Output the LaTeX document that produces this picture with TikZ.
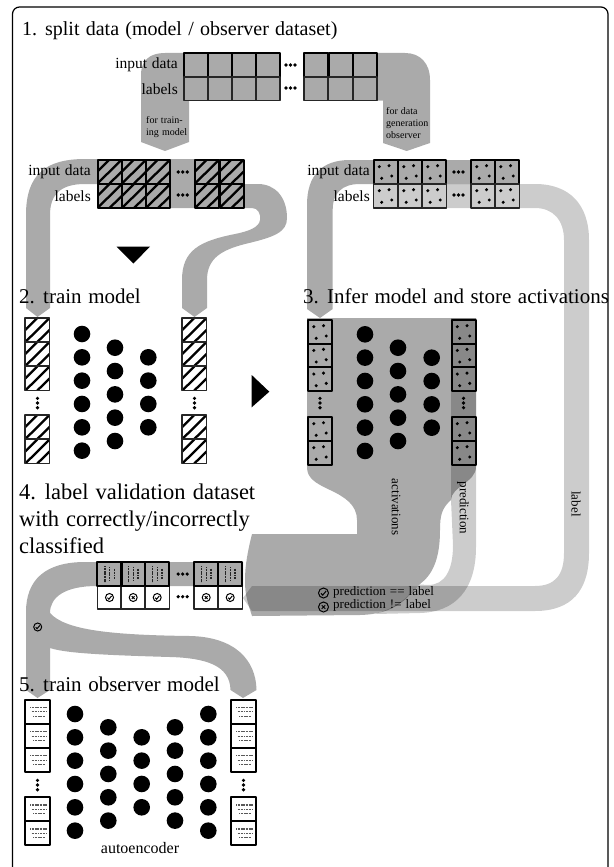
\documentclass[tikz,border=0pt]{standalone}
\usepackage{fontspec}
\setmainfont[WordSpace=1.25]{Liberation Serif}
\tikzset{
    headtext/.style={anchor=base west, inner sep=0pt, font=\fontsize{21}{27}\selectfont},
    rowtext/.style={anchor=east, inner sep=0pt, font=\fontsize{15.5}{18}\selectfont},
    smalltext/.style={anchor=west, inner sep=0pt, align=left, font=\fontsize{10}{12.3}\selectfont},
    belttext/.style={inner sep=0pt, font=\fontsize{13}{15}\selectfont},
    graybelt/.style={fill=black, fill opacity=0.333},
    lightbelt/.style={fill=black, fill opacity=0.2},
    toprow/.style={draw=black, line width=2pt, line join=round},
    botrow/.style={draw=black!85, line width=1.4pt, line join=round},
    hatchcell/.pic={
        \begin{scope}
            \clip (0,0) rectangle (24.3,24);
            \draw[line width=2.3pt] (0,12) -- (12,0);
            \draw[line width=2.3pt] (0,24) -- (24.3,0);
            \draw[line width=2.3pt] (12,24) -- (24.3,12);
        \end{scope}
    },
    dotcell/.pic={
        \foreach \dx/\dy in {5.8/6.7,15.5/5.7,8.2/18.3,18.2/16}
            \fill (\dx,\dy) circle (1.7);
    },
    textcell/.pic={
        \draw[line width=1.1pt, black!65, dash pattern=on 1.1pt off 0.5pt] (5,8) -- (22,8);
        \draw[line width=1.1pt, black!65, dash pattern=on 1.1pt off 0.5pt] (6.5,12.4) -- (21,12.4);
        \draw[line width=1.1pt, black!65, dash pattern=on 1.1pt off 0.5pt] (8,16.8) -- (19.5,16.8);
    },
    textcolumn/.pic={
        \draw[line width=1.2pt, black!85, dash pattern=on 1.1pt off 0.5pt] (7.7,4) -- (7.7,20);
        \draw[line width=1.2pt, black!85, dash pattern=on 1.1pt off 0.5pt] (12.3,5) -- (12.3,19);
        \draw[line width=1.2pt, black!85, dash pattern=on 1.1pt off 0.5pt] (16.9,6.5) -- (16.9,17.5);
    },
    hdots/.pic={
        \foreach \i in {-4.5,0,4.5}
            \fill (\i,0) circle (1.8);
    },
    vdots/.pic={
        \foreach \i in {-4.7,0,4.7}
            \fill (0,\i) circle (1.8);
    },
    checkmark/.pic={
        \draw[line width=1pt] (0,0) circle (4);
        \draw[line width=1pt] (-2,0.2) -- (-0.6,1.7) -- (2.1,-1.6);
    },
    crossmark/.pic={
        \draw[line width=1pt] (0,0) circle (4);
        \draw[line width=1pt] (-1.4,-1.4) -- (1.4,1.4) (-1.4,1.4) -- (1.4,-1.4);
    }
}
\begin{document}
\begin{tikzpicture}[x=1pt, y=-1pt]
    \useasboundingbox (0,0) rectangle (613,867);

    % Frame
    \draw[line width=1.2pt, rounded corners=7pt] (12.5,870) -- (12.5,7) -- (608,7) -- (608,870);

    % Belts of step 1
    \fill[graybelt] (184,53) -- (165,53) .. controls (150,53) and (141,60) .. (141,75)
        -- (141,142) -- (165,151) -- (189,142) -- (189,100) -- (279.5,100) -- (279.5,53) -- cycle;
    \fill[graybelt] (304,53) -- (377,53) -- (405,53) .. controls (420,53) and (430,63) .. (430,80)
        -- (430,143) -- (406.7,151) -- (383,143) -- (383,100.5) -- (304,100.5) -- cycle;

    % Belts of the model split
    \fill[graybelt] (243.5,159) -- (85,159) .. controls (45,159) and (26,175) .. (26,215)
        -- (26,308) -- (37.5,317) -- (50,308) -- (50,215) .. controls (50,195) and (60,184) .. (85,184)
        -- (97.5,184) -- (97.5,208) -- (243.5,208) -- (252,208)
        .. controls (258,208) and (261,214) .. (260,220) .. controls (259,227) and (250,231) .. (235,234)
        .. controls (200,241) and (182,250) .. (182,280) -- (182,308) -- (194.5,317) -- (207,308) -- (207,280)
        .. controls (207,258) and (222,250) .. (245,244) .. controls (275,237) and (287,232) .. (287,218)
        .. controls (287,197) and (275,184) .. (258,184) -- (243.5,184) -- cycle;

    % Belts of the observer split
    \fill[graybelt] (519.5,160) -- (350,160) .. controls (322,160) and (307,175) .. (307,205)
        -- (307,309) -- (320,318) -- (332.7,309) -- (332.7,210) .. controls (332.7,193) and (342,184) .. (360,184)
        -- (519.5,184) -- cycle;
    \fill[lightbelt] (373.5,184) -- (535,184) .. controls (570,184) and (589,205) .. (589,240)
        -- (589,553) .. controls (589,590) and (572,611) .. (535,611)
        -- (252,611) -- (243,598) -- (252,586) -- (535,586) .. controls (555,586) and (564,575) .. (564,553)
        -- (564,240) .. controls (564,220) and (553,208) .. (535,208) -- (373.5,208) -- cycle;

    % Belts of step 3
    \fill[graybelt] (307,318) -- (476,318) -- (476,467) .. controls (476,482) and (451,487) .. (451,500)
        .. controls (442,508) and (440,515) .. (440,530) .. controls (440,560) and (432,575) .. (420,584)
        .. controls (405,600) and (395,614) .. (360,615) -- (252,616)
        .. controls (247,600) and (245,595) .. (245,580) .. controls (245,565) and (248,550) .. (252,534)
        -- (357,534) -- (357,520) .. controls (357,505) and (345,497) .. (330,490)
        .. controls (315,483) and (307,478) .. (307,467) -- cycle;
    \fill[lightbelt] (451,318) -- (476,318) -- (476,547) .. controls (476,590) and (455,612) .. (420,613)
        -- (375,614) .. controls (395,608) and (405,600) .. (420,584.5) -- (428,585)
        .. controls (445,585) and (453,570) .. (453,545) -- (451,500) -- cycle;

    % Belts of the validation dataset
    \fill[graybelt] (243,562) -- (85,562) .. controls (45,562) and (26,580) .. (26,612)
        -- (26,690) -- (37.5,698) -- (50,690) -- (50,648) .. controls (65,653) and (100,655) .. (170,657)
        .. controls (205,658) and (230,665) .. (230.5,690) -- (243,698) -- (256.5,690)
        .. controls (256,660) and (235,637) .. (190,636) .. controls (110,635) and (65,630) .. (50,613)
        .. controls (50,597) and (65,586) .. (97,586) -- (243,586) -- cycle;

    % Grid of step 1
    \foreach \x in {184,208,232,256,304,328.5,353} {
        \draw[toprow] (\x,53) rectangle +(24,24);
        \draw[botrow] (\x,77) rectangle +(24,23.5);
    }
    \pic at (290.5,65) {hdots};
    \pic at (290.5,88) {hdots};

    % Grid for the model
    \foreach \x in {97.5,122,146,195,219.5} {
        \pic at (\x,159.5) {hatchcell};
        \pic at (\x,184) {hatchcell};
        \draw[toprow] (\x,159.5) rectangle +(24.3,24.5);
        \draw[toprow] (\x,184) rectangle +(24.3,24);
    }
    \pic at (182.7,172) {hdots};
    \pic at (182.7,195) {hdots};

    % Grid for the observer
    \foreach \x in {373.5,398,422,471,495} {
        \pic at (\x,160) {dotcell};
        \pic at (\x,184) {dotcell};
        \draw[toprow] (\x,160) rectangle +(24.3,24);
        \draw[botrow] (\x,184) rectangle +(24.3,24);
    }
    \pic at (458.5,172) {hdots};
    \pic at (458.5,195) {hdots};

    % Arrow heads between steps
    \fill (116.7,246.7) -- (150,246.7) -- (133.3,263.5) -- cycle;
    \fill (251.7,375) -- (269.3,391.7) -- (251.7,407.3) -- cycle;

    % Columns of step 2
    \foreach \x in {25.3,182.3} {
        \foreach \y in {318,342,366.5,415,439.5} {
            \pic at (\x,\y) {hatchcell};
            \draw[botrow, line width=1.7pt] (\x,\y) rectangle +(24.3,24);
        }
    }
    \pic at (37.5,403) {vdots};
    \pic at (194.5,403) {vdots};

    % Columns of step 3
    \foreach \x in {308,451.5} {
        \foreach \y in {320,343.7,367.4,417,441} {
            \pic at (\x,\y) {dotcell};
            \draw[toprow] (\x,\y) rectangle +(24.3,23.7);
        }
    }
    \pic at (320,403) {vdots};
    \pic at (463.5,403) {vdots};

    % Columns of step 5
    \foreach \x in {25,231} {
        \foreach \y in {699.5,723.7,747.9,797,821} {
            \pic at (\x,\y) {textcell};
            \draw[toprow] (\x,\y) rectangle +(24.7,24.2);
        }
    }
    \pic at (37.5,785) {vdots};
    \pic at (243.5,785) {vdots};

    % Neurons
    \foreach \cx/\cy/\cn in {82/334/5,115/347.7/4,148.3/357.3/3,
                             365/334.3/5,398/347.7/4,431.7/357.7/3,
                             75/714/5,108.3/727.3/4,141.7/737.3/3,175/727.3/4,208.3/714/5} {
        \foreach \i in {0,...,\cn}
            \fill (\cx,\cy+\i*23.33) circle (8.3);
    }

    % Grid of step 4
    \foreach \x/\m in {97.3/checkmark,121/crossmark,145/checkmark,194/crossmark,218/checkmark} {
        \pic at (\x,562) {textcolumn};
        \draw[botrow, fill=white] (\x,585.5) rectangle +(24.3,23.5);
        \draw[toprow] (\x,562) rectangle +(24.3,23.5);
        \pic at ([xshift=12.2pt]\x,597.5) {\m};
    }
    \pic at (182.7,574) {hdots};
    \pic at (182.7,596.7) {hdots};
    \pic at (37.7,627) {checkmark};

    % Legend marks
    \pic[scale=1.25] at (323.5,593) {checkmark};
    \pic[scale=1.25] at (323.5,607) {crossmark};

    % Headings
    \node[headtext, font=\fontsize{20}{27}\selectfont] (splittitle) at (22,36) {1. split data (model / observer dataset)};
    \node[headtext] (traintitle) at (19,303) {2. train model};
    \node[headtext] (infertitle) at (303,303) {3. Infer model and store activations};
    \node[headtext, anchor=north west, align=left, font=\fontsize{22.5}{27}\selectfont] (labeltitle) at (19,484)
        {4. label validation dataset\\with correctly/incorrectly\\classified};
    \node[headtext] (observertitle) at (19,691) {5. train observer model};

    % Row labels
    \node[rowtext] (inputtop) at (178,65) {input data};
    \node[rowtext] (labelstop) at (178,89) {labels};
    \node[rowtext] (inputmodel) at (91,172) {input data};
    \node[rowtext] (labelsmodel) at (91,196) {labels};
    \node[rowtext] (inputobserver) at (370,172) {input data};
    \node[rowtext] (labelsobserver) at (370,196) {labels};

    % Belt labels
    \node[smalltext] (fortraining) at (146,127) {for train-\\ing model};
    \node[smalltext] (fordata) at (386,123) {for data\\generation\\observer};
    \node[belttext, rotate=-90] (activations) at (396,507) {activations};
    \node[belttext, rotate=-90] (prediction) at (463,508) {prediction};
    \node[belttext, rotate=-90] (labelname) at (576,504) {label};
    \node[belttext, anchor=west] (equallabel) at (333,592) {prediction == label};
    \node[belttext, anchor=west] (differlabel) at (333,605) {prediction != label};
    \node[inner sep=0pt, font=\fontsize{16}{18}\selectfont] (autoencoder) at (140,848) {autoencoder};
\end{tikzpicture}
\end{document}
